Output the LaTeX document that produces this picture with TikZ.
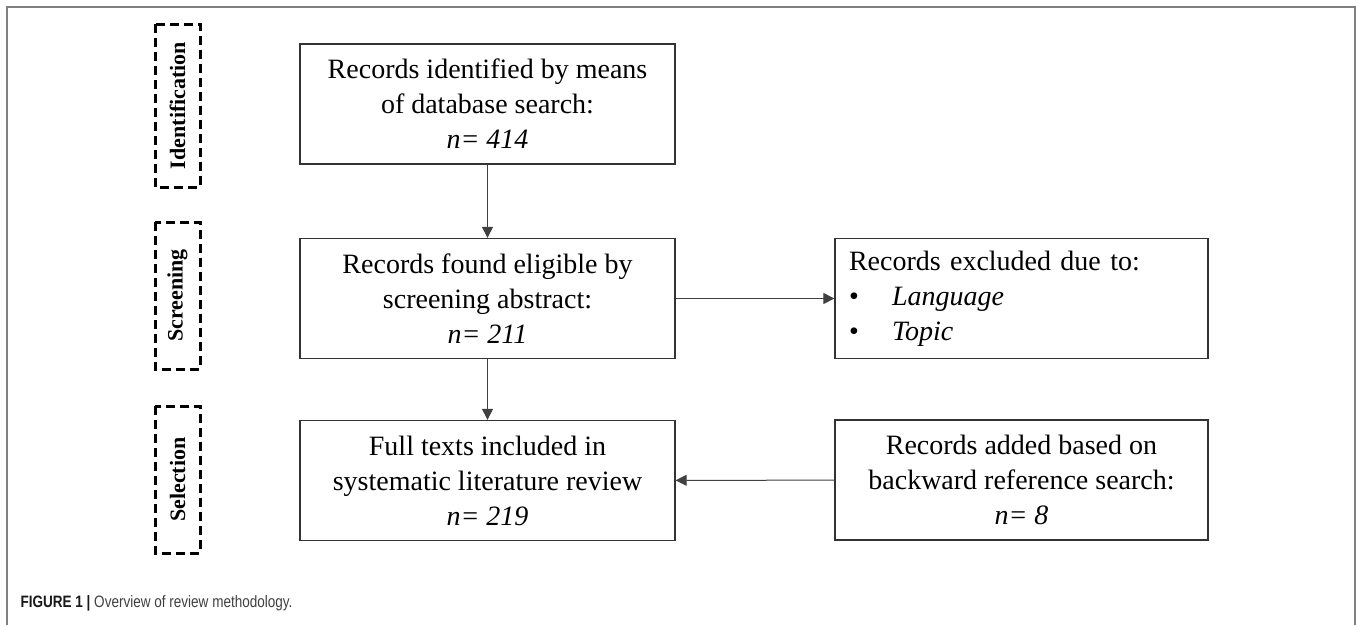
\documentclass[tikz,border=0pt]{standalone}
\usepackage{fontspec}
\setmainfont{Liberation Serif}
\newfontfamily\capfont[FakeStretch=0.82]{Liberation Sans}
\usetikzlibrary{arrows.meta}

\begin{document}
\begin{tikzpicture}[x=1pt,y=-1pt,
  stage/.style={draw=black!80,line width=1.3pt,minimum width=375pt,minimum height=120pt,align=center,inner sep=0pt,font=\fontsize{28}{35}\selectfont},
  phase/.style={draw,line width=3pt,dash pattern=on 9pt off 5pt,rotate=90,minimum height=45pt,inner sep=0pt,font=\fontsize{22}{26}\selectfont\bfseries},
  flow/.style={draw=black!75,line width=1pt,-{Triangle[length=11pt,width=11pt]}}]
\useasboundingbox (0,0) rectangle (1357,625);
\draw[line width=1.5pt,black!50] (7,625) -- (7,7) -- (1355,7) -- (1355,625);

% phases
\node at (177.5,105.5) [phase,minimum width=163pt] (ident) {Identification};
\node at (177.5,295.5) [phase,minimum width=147pt] (screen) {Screening};
\node at (177.5,479.5) [phase,minimum width=147pt] (select) {Selection};

% main column
\node at (487.5,104) [stage] (found) {Records identified by means\\of database search:\\\textit{n= 414}};
\node at (487.5,298.5) [stage] (eligible) {Records found eligible by\\screening abstract:\\\textit{n= 211}};
\node at (487.5,480.5) [stage] (included) {Full texts included in\\systematic literature review\\\textit{n= 219}};

% side boxes
\node at (1021.5,298.5) [stage,minimum width=373pt,text width=345pt,inner xsep=14pt,align=left] (excluded) {Records excluded due to:\\\makebox[43pt][l]{\textbullet}\textit{Language}\\\makebox[43pt][l]{\textbullet}\textit{Topic}};
\node at (1021.5,480) [stage,minimum width=373pt] (added) {Records added based on\\backward reference search:\\\textit{n= 8}};

\draw[flow] (found) -- (eligible);
\draw[flow] (eligible) -- (included);
\draw[flow] (eligible) -- (excluded);
\draw[flow] (added) -- (included);

\node at (17,603) [anchor=west,text=black!75,font=\capfont\fontsize{16.5}{19}\selectfont] (caption) {\textcolor{black!90}{\textbf{FIGURE 1 |}} Overview of review methodology.};
\end{tikzpicture}
\end{document}
